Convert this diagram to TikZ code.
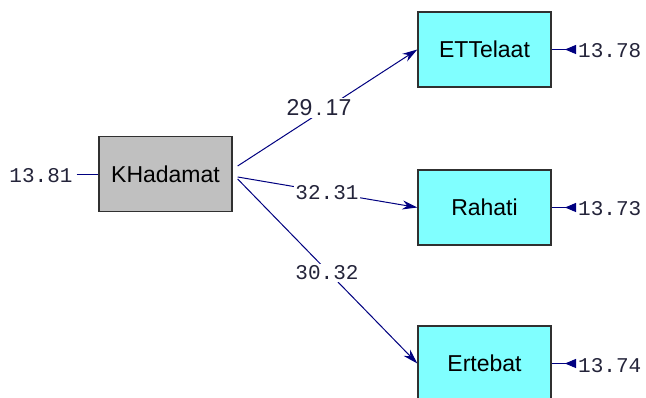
\documentclass[tikz,border=0pt]{standalone}
\usepackage{fontspec}
\setmainfont{Liberation Sans}
\newfontfamily\monofont{Liberation Mono}
\usetikzlibrary{arrows.meta,calc}
\definecolor{pathblue}{HTML}{000080}
\definecolor{latentgray}{HTML}{C0C0C0}
\definecolor{obscyan}{HTML}{80FFFF}
\definecolor{numink}{HTML}{24243A}
\definecolor{boxline}{HTML}{303030}
% fixed-pitch digits set in the sans face
\newcommand{\fixdig}[1]{\makebox[13pt][c]{#1}}
\begin{document}
\begin{tikzpicture}[x=1pt,y=-1pt,
  varbox/.style={draw=boxline,line width=1.3pt,minimum width=133pt,minimum height=75pt,
    inner sep=0pt,font=\fontsize{23}{25}\selectfont},
  latent/.style={varbox,fill=latentgray},
  observed/.style={varbox,fill=obscyan},
  coef/.style={fill=white,inner sep=1.5pt,text=numink,font=\monofont\fontsize{21}{23}\selectfont},
  errlabel/.style={anchor=west,inner xsep=2pt,inner ysep=0pt,text=numink,font=\monofont\fontsize{21}{23}\selectfont},
  pathline/.style={draw=pathblue,line width=1pt,-{Stealth[length=15pt,width=9pt]}},
  errline/.style={draw=pathblue,line width=1pt,-{Triangle[reversed,length=11pt,width=9pt]}},
  plainerr/.style={draw=pathblue,line width=1pt}
]
\useasboundingbox[fill=white] (0,0) rectangle (646,398);

% variables
\node[latent]   (kh) at (165.5,174)   {KHadamat};
\node[observed] (et) at (484.5,49.5)  {ETTelaat};
\node[observed] (ra) at (484.5,207.5) {Rahati};
\node[observed] (er) at (484.5,363.5) {Ertebat};

% error variances
\node[anchor=center,inner sep=0pt,text=numink,font=\monofont\fontsize{21}{23}\selectfont] (e0) at (41,176) {13.81};
\node[errlabel] (e1) at (576,51)  {13.78};
\node[errlabel] (e2) at (576,209) {13.73};
\node[errlabel] (e3) at (576,366) {13.74};

\coordinate (e0r) at ($(e0.east)+(4,-1)$);
\draw[plainerr] (e0r) -- (e0r -| kh.west);
\draw[errline] (et.east) -- (et.east -| e1.west);
\draw[errline] (ra.east) -- (ra.east -| e2.west);
\draw[errline] (er.east) -- (er.east -| e3.west);

% structural paths
\draw[pathline] ($(kh.east)+(5,-8)$) -- (et.west);
\draw[pathline] ($(kh.east)+(5,3)$)  -- (ra.west);
\draw[pathline] ($(kh.east)+(5,5)$)  -- (er.west);

% path coefficients
\node[coef,font=\fontsize{23}{25}\selectfont] (c1) at (319,108)
  {\fixdig{2}\fixdig{9}\fixdig{.}\fixdig{1}\fixdig{7}};
\node[coef] (c2) at (327,193) {32.31};
\node[coef] (c3) at (327,273) {30.32};
\end{tikzpicture}
\end{document}
